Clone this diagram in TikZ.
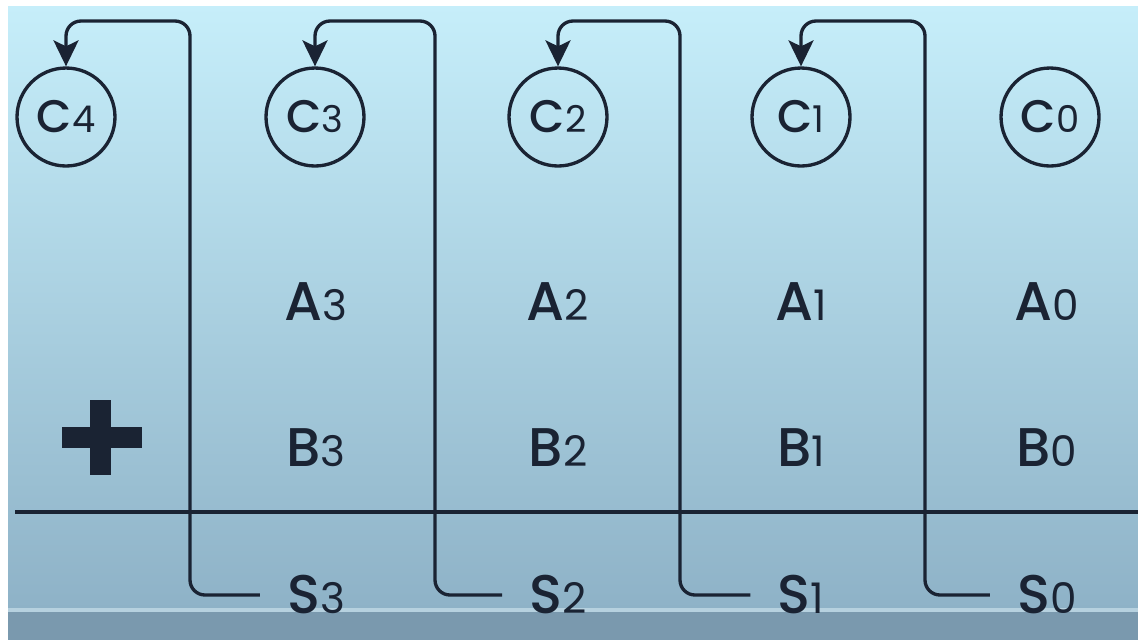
\documentclass[tikz,border=0pt]{standalone}
\usepackage{xcolor}
\usepackage{fontspec}
\setmainfont{Poppins}
\newfontfamily\heavy{Poppins Medium}
\usepackage{tikz}
\usetikzlibrary{arrows.meta}
\definecolor{ink}{HTML}{1A2333}
\definecolor{skytop}{HTML}{C6EEFA}
\definecolor{skymid}{HTML}{ABD8EB}
\definecolor{skybot}{HTML}{8EB2C7}
\definecolor{floor}{HTML}{7A99AE}
\definecolor{rim}{HTML}{B6D1DF}

\newcommand{\idx}[2][24]{{\normalfont\fontsize{#1}{#1}\selectfont #2}}

\tikzset{
  carry/.style={draw=ink, line width=1.9pt, rounded corners=0.3cm,
    -{Stealth[length=5.2mm, width=5mm, inset=1.2mm]}},
  bitnode/.style={text=ink, inner sep=0pt, font=\heavy\fontsize{31}{31}\selectfont},
  carrynode/.style={circle, draw=ink, line width=1.9pt, minimum size=1.96cm,
    inner sep=0pt, text=ink, font=\heavy\fontsize{26}{26}\selectfont},
}

\begin{document}
\begin{tikzpicture}[x=0.02cm, y=-0.02cm]
          \useasboundingbox (0,0) rectangle (1138,640);
          \fill[white] (0,0) rectangle (1138,640);
          \shade[top color=skytop, middle color=skymid, bottom color=skybot]
            (8,6) rectangle (1138,610);
          \fill[floor] (8,612) rectangle (1138,640);
          \draw[rim, line width=2pt] (8,610) -- (1138,610);

          \foreach[count=\i from 0] \cx in {1050,801,558,315,66}
            \node[carrynode] (c\i) at (\cx,117) {C\idx[21]{\i}};

          \foreach[count=\i from 0] \cx in {1047,801,558,316} {
            \node[bitnode] (a\i) at (\cx,302) {A\idx{\i}};
            \node[bitnode] (b\i) at (\cx,448) {B\idx{\i}};
            \node[bitnode] (s\i) at (\cx,595) {S\idx{\i}};
          }

          \fill[ink] (62,427) rectangle (142,448);
          \fill[ink] (90,400) rectangle (111,475);
          \draw[ink, line width=1.9pt] (15,512) -- (1138,512);

          \foreach \i/\rx in {0/925, 1/680, 2/435, 3/190} {
            \pgfmathtruncatemacro\j{\i+1}
            \draw[carry] ([xshift=-0.54cm]s\i.west) -| (\rx,21) -| (c\j.north);
          }
        \end{tikzpicture}
\end{document}
